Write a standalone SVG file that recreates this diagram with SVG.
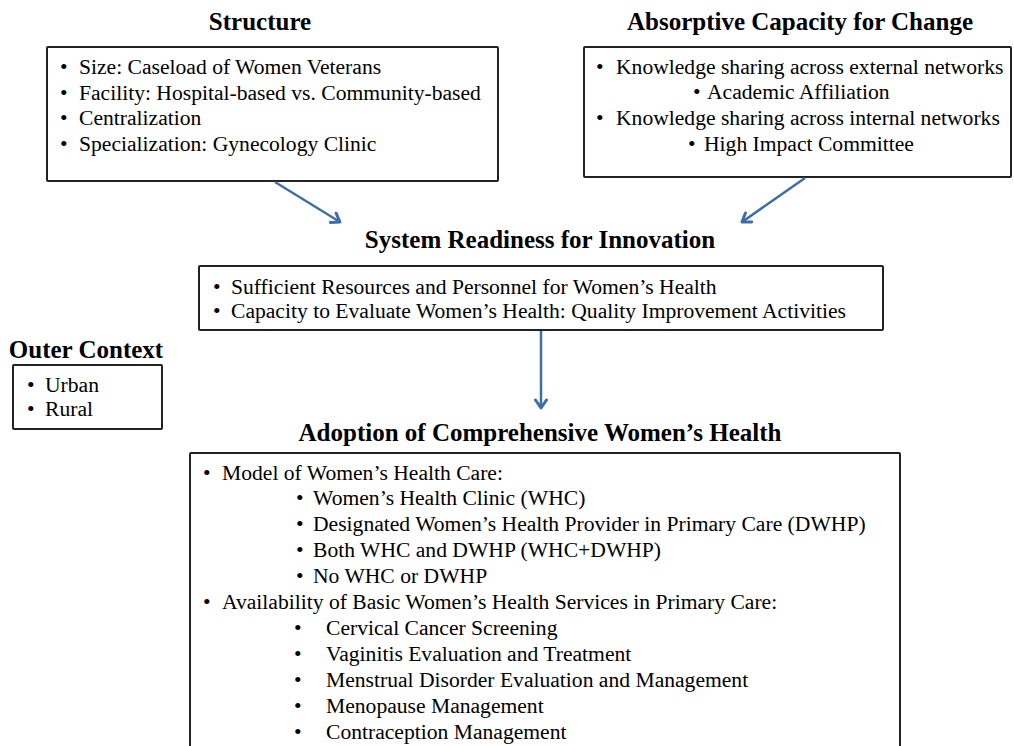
<svg xmlns="http://www.w3.org/2000/svg" width="1014" height="746" viewBox="0 0 1014 746">
<defs>
<style>
.t{font-family:"Liberation Serif","Times New Roman",serif;font-size:25px;font-weight:bold;fill:#000;text-anchor:middle}
.b{font-family:"Liberation Serif","Times New Roman",serif;font-size:21.6px;fill:#000}
.box{fill:#fff;stroke:#222;stroke-width:2}
.c{stroke:#3d6eaa;stroke-width:2.5;fill:none}
</style>
<marker id="ah" markerWidth="14" markerHeight="14" refX="10" refY="7" orient="auto" markerUnits="userSpaceOnUse">
<path d="M2,1.5 L10,7 L2,12.5" fill="none" stroke="#3d6eaa" stroke-width="3" stroke-linecap="round" stroke-linejoin="round"/>
</marker>
</defs>
<rect width="1014" height="746" fill="#fff"/>
<g id="structure">
<text class="t" x="260" y="30">Structure</text>
<rect class="box" x="47" y="47" width="451" height="134" rx="1"/>
<text class="b" x="60" y="74">•</text><text class="b" x="79" y="74">Size: Caseload of Women Veterans</text>
<text class="b" x="60" y="100">•</text><text class="b" x="79" y="100">Facility: Hospital-based vs. Community-based</text>
<text class="b" x="60" y="125">•</text><text class="b" x="79" y="125">Centralization</text>
<text class="b" x="60" y="151">•</text><text class="b" x="79" y="151">Specialization: Gynecology Clinic</text>
</g>
<g id="absorptive">
<text class="t" x="800" y="30">Absorptive Capacity for Change</text>
<rect class="box" x="584" y="47" width="427" height="130" rx="1"/>
<text class="b" x="596" y="74">•</text><text class="b" x="616" y="74">Knowledge sharing across external networks</text>
<text class="b" x="693" y="99">•</text><text class="b" x="707" y="99">Academic Affiliation</text>
<text class="b" x="596" y="125">•</text><text class="b" x="616" y="125">Knowledge sharing across internal networks</text>
<text class="b" x="688" y="151">•</text><text class="b" x="704" y="151">High Impact Committee</text>
</g>
<g id="readiness">
<text class="t" x="540" y="248">System Readiness for Innovation</text>
<rect class="box" x="199" y="266" width="684" height="64" rx="1"/>
<text class="b" x="213" y="294">•</text><text class="b" x="231" y="294">Sufficient Resources and Personnel for Women’s Health</text>
<text class="b" x="213" y="318">•</text><text class="b" x="231" y="318">Capacity to Evaluate Women’s Health: Quality Improvement Activities</text>
</g>
<g id="outer">
<text class="t" x="86" y="358">Outer Context</text>
<rect class="box" x="13" y="365" width="149" height="64" rx="1"/>
<text class="b" x="27" y="392">•</text><text class="b" x="45" y="392">Urban</text>
<text class="b" x="27" y="416">•</text><text class="b" x="45" y="416">Rural</text>
</g>
<g id="adoption">
<text class="t" x="540" y="441">Adoption of Comprehensive Women’s Health</text>
<rect class="box" x="190" y="453" width="710" height="300" rx="1"/>
<text class="b" x="203" y="480">•</text><text class="b" x="222" y="480">Model of Women’s Health Care:</text>
<text class="b" x="296" y="505">•</text><text class="b" x="313" y="505">Women’s Health Clinic (WHC)</text>
<text class="b" x="296" y="531">•</text><text class="b" x="313" y="531">Designated Women’s Health Provider in Primary Care (DWHP)</text>
<text class="b" x="296" y="557">•</text><text class="b" x="313" y="557">Both WHC and DWHP (WHC+DWHP)</text>
<text class="b" x="296" y="583">•</text><text class="b" x="313" y="583">No WHC or DWHP</text>
<text class="b" x="203" y="609">•</text><text class="b" x="222" y="609">Availability of Basic Women’s Health Services in Primary Care:</text>
<text class="b" x="294" y="635">•</text><text class="b" x="326" y="635">Cervical Cancer Screening</text>
<text class="b" x="294" y="661">•</text><text class="b" x="326" y="661">Vaginitis Evaluation and Treatment</text>
<text class="b" x="294" y="687">•</text><text class="b" x="326" y="687">Menstrual Disorder Evaluation and Management</text>
<text class="b" x="294" y="713">•</text><text class="b" x="326" y="713">Menopause Management</text>
<text class="b" x="294" y="739">•</text><text class="b" x="326" y="739">Contraception Management</text>
</g>
<g id="connectors">
<line class="c" x1="275" y1="182" x2="340" y2="222" marker-end="url(#ah)"/>
<line class="c" x1="805" y1="178" x2="742" y2="222" marker-end="url(#ah)"/>
<line class="c" x1="541" y1="331" x2="541" y2="408" marker-end="url(#ah)"/>
</g>
</svg>
